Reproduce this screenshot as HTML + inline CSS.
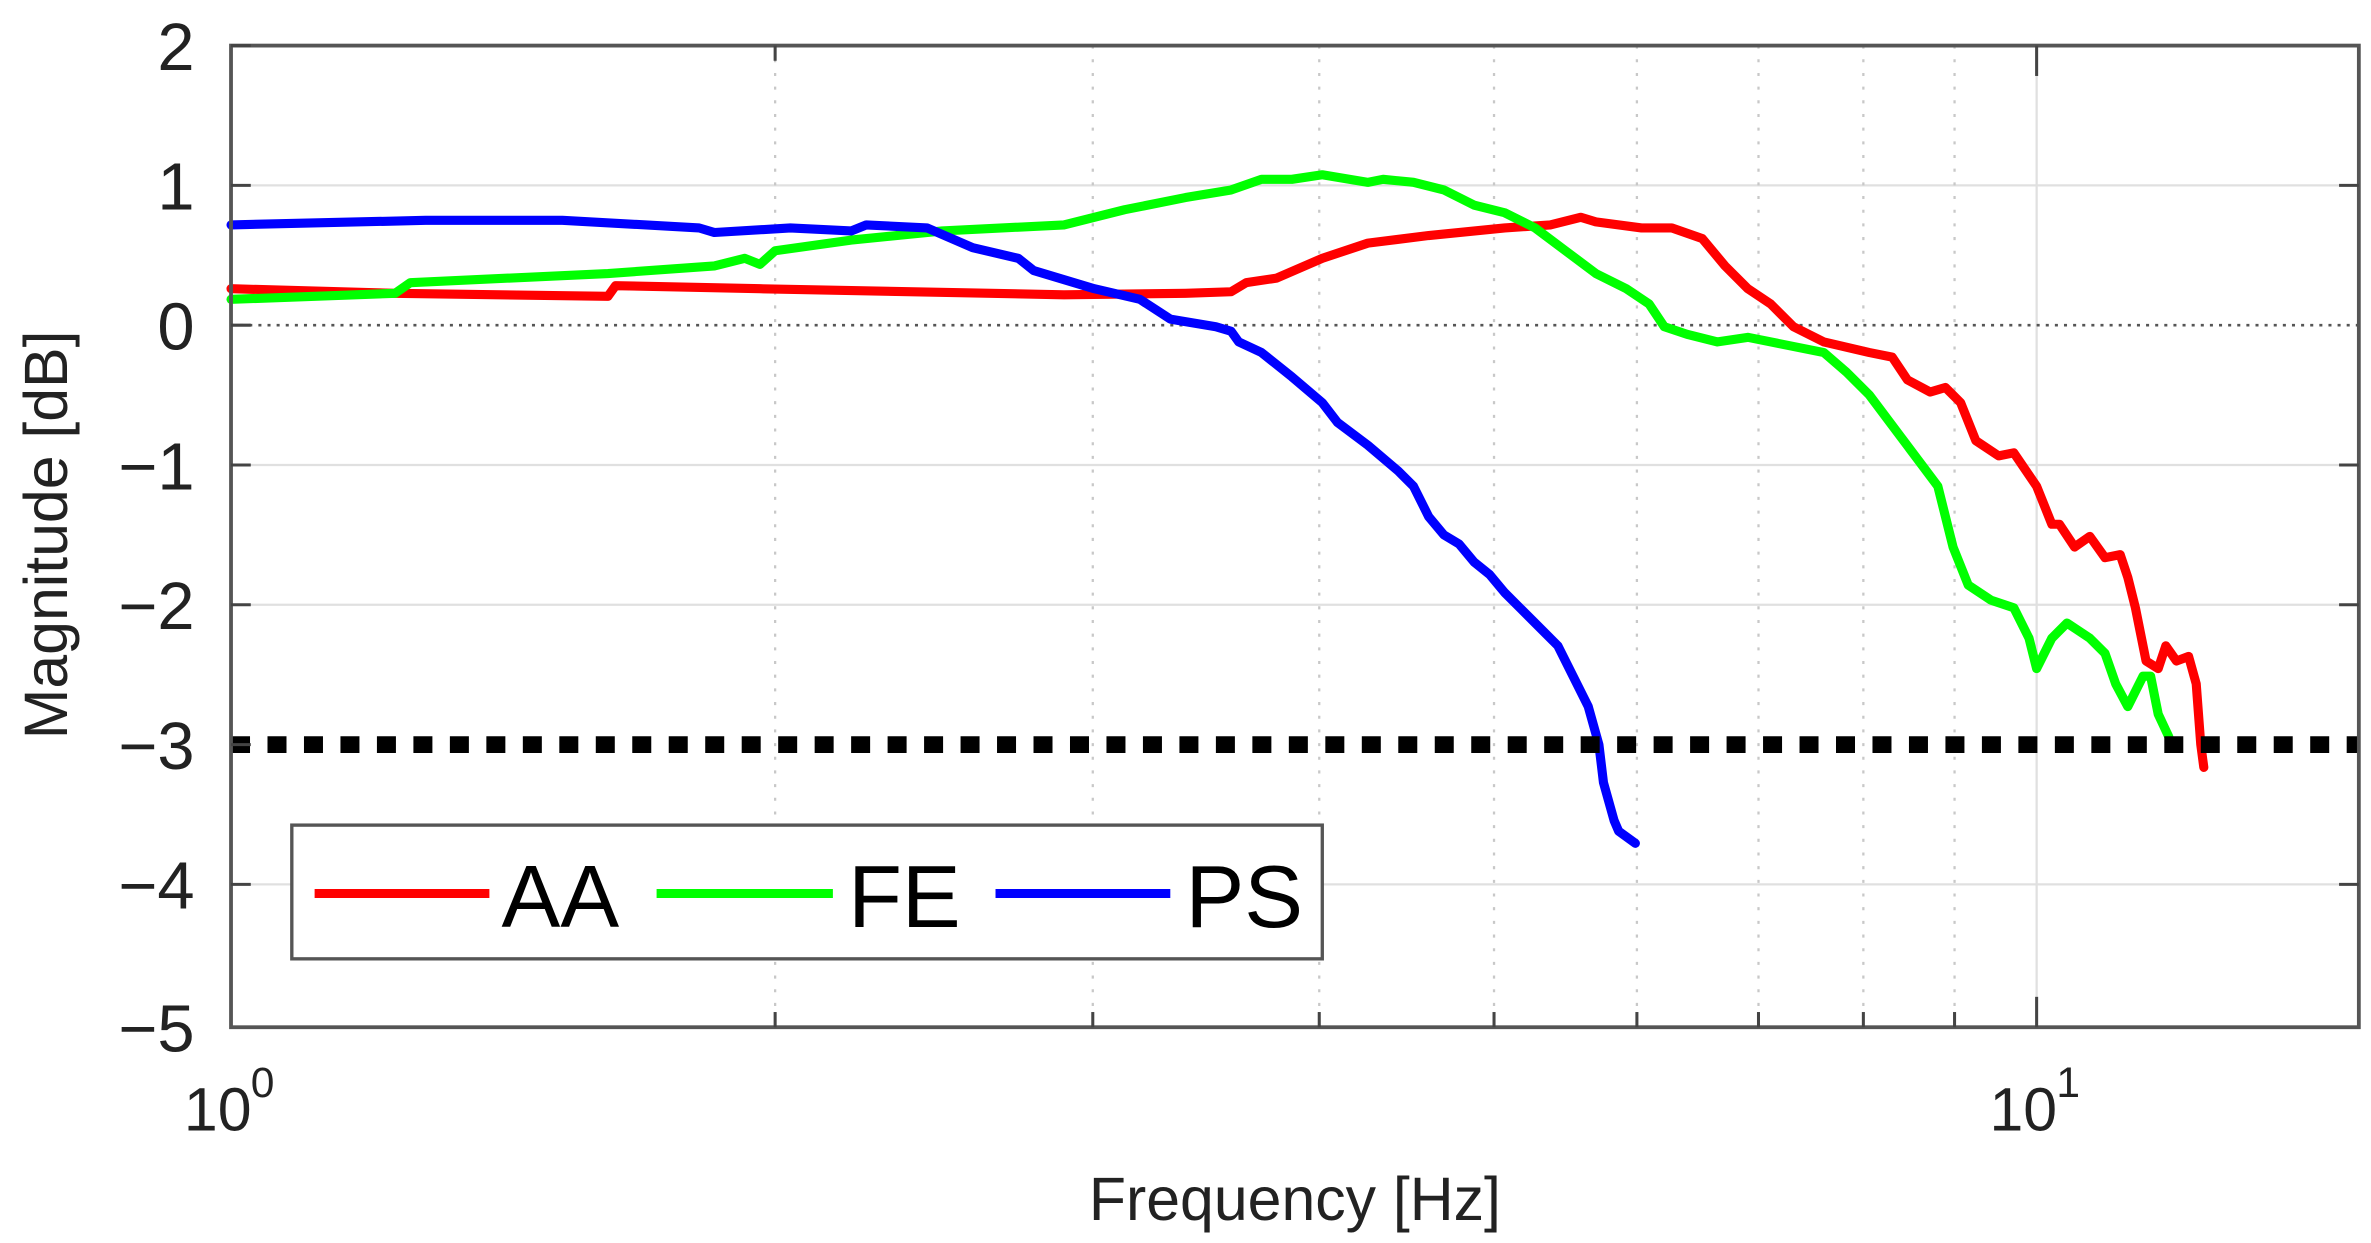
<!DOCTYPE html>
<html><head><meta charset="utf-8"><style>
html,body{margin:0;padding:0;background:#fff;}
svg{display:block;}
text{font-family:"Liberation Sans",Arial,sans-serif;fill:#222;}
</style></head><body>
<svg width="2371" height="1243" viewBox="0 0 1560 818" preserveAspectRatio="none" xmlns="http://www.w3.org/2000/svg">
<rect width="1560" height="818" fill="#fff"/>
<g stroke="#e0e0e0" stroke-width="1.5">
<line x1="152" y1="122" x2="1552" y2="122"/>
<line x1="152" y1="306" x2="1552" y2="306"/>
<line x1="152" y1="398" x2="1552" y2="398"/>
<line x1="152" y1="582" x2="1552" y2="582"/>
</g>
<g stroke="#c8c8c8" stroke-width="1.5" stroke-dasharray="2,7">
<line x1="510" y1="30" x2="510" y2="676"/>
<line x1="719" y1="30" x2="719" y2="676"/>
<line x1="868" y1="30" x2="868" y2="676"/>
<line x1="983" y1="30" x2="983" y2="676"/>
<line x1="1077" y1="30" x2="1077" y2="676"/>
<line x1="1157" y1="30" x2="1157" y2="676"/>
<line x1="1226" y1="30" x2="1226" y2="676"/>
<line x1="1286" y1="30" x2="1286" y2="676"/>
</g>
<line x1="1340" y1="30" x2="1340" y2="676" stroke="#e0e0e0" stroke-width="1.5"/>
<line x1="152" y1="214" x2="1552" y2="214" stroke="#555" stroke-width="1.8" stroke-dasharray="2,4"/>
<g fill="none" stroke-width="6" stroke-linejoin="round" stroke-linecap="round">
<polyline stroke="#ff0000" points="152,190 260,193 400,195 405,188 500,190 700,194 780,193 810,192 820,186 840,183 870,170 900,160 940,155 990,150 1020,148 1040,143 1050,146 1080,150 1100,150 1120,157 1135,175 1150,190 1165,200 1180,215 1200,225 1230,232 1245,235 1255,250 1270,258 1280,255 1290,265 1300,290 1315,300 1325,298 1340,320 1350,345 1355,345 1365,360 1375,353 1385,367 1395,365 1400,380 1405,400 1412,435 1420,440 1425,425 1432,435 1440,432 1445,450 1448,490 1450,505"/>
<polyline stroke="#00ff00" points="152,197 260,193 270,186 400,180 470,175 490,170 500,174 510,165 560,158 620,152 700,148 740,138 780,130 810,125 830,118 850,118 870,115 900,120 910,118 930,120 950,125 970,135 990,140 1010,150 1030,165 1050,180 1070,190 1085,200 1095,215 1110,220 1130,225 1150,222 1170,226 1200,232 1215,245 1230,260 1245,280 1260,300 1275,320 1285,360 1295,385 1310,395 1325,400 1335,420 1340,440 1350,420 1360,410 1375,420 1385,430 1392,450 1400,465 1410,445 1415,445 1420,470 1427,485"/>
<polyline stroke="#0000ff" points="152,148 280,145 370,145 460,150 470,153 520,150 560,152 570,148 610,150 640,163 670,170 680,178 720,190 750,197 770,210 800,215 810,218 815,225 830,232 850,248 870,265 880,278 900,293 920,310 930,320 940,340 950,352 960,358 970,370 980,378 990,390 1000,400 1010,410 1025,425 1035,445 1045,465 1052,490 1055,515 1062,540 1065,547 1076,555"/>
</g>
<line x1="152" y1="490" x2="1552" y2="490" stroke="#000" stroke-width="11" stroke-dasharray="12.5,11.5"/>
<rect x="152" y="30" width="1400" height="646" fill="none" stroke="#555" stroke-width="2.5"/>
<g stroke="#444" stroke-width="2">
<line x1="152" y1="30" x2="165" y2="30"/><line x1="152" y1="122" x2="165" y2="122"/><line x1="152" y1="214" x2="165" y2="214"/><line x1="152" y1="306" x2="165" y2="306"/><line x1="152" y1="398" x2="165" y2="398"/><line x1="152" y1="490" x2="165" y2="490"/><line x1="152" y1="582" x2="165" y2="582"/>
<line x1="1552" y1="122" x2="1539" y2="122"/><line x1="1552" y1="306" x2="1539" y2="306"/><line x1="1552" y1="398" x2="1539" y2="398"/><line x1="1552" y1="582" x2="1539" y2="582"/>
<line x1="510" y1="676" x2="510" y2="666"/><line x1="719" y1="676" x2="719" y2="666"/><line x1="868" y1="676" x2="868" y2="666"/><line x1="983" y1="676" x2="983" y2="666"/><line x1="1077" y1="676" x2="1077" y2="666"/><line x1="1157" y1="676" x2="1157" y2="666"/><line x1="1226" y1="676" x2="1226" y2="666"/><line x1="1286" y1="676" x2="1286" y2="666"/><line x1="1340" y1="676" x2="1340" y2="656"/>
<line x1="510" y1="30" x2="510" y2="40"/><line x1="1340" y1="30" x2="1340" y2="50"/>
</g>
<g font-size="44" text-anchor="end">
<text x="128" y="46">2</text>
<text x="128" y="138">1</text>
<text x="128" y="230">0</text>
<text x="128" y="322">−1</text>
<text x="128" y="414">−2</text>
<text x="128" y="506">−3</text>
<text x="128" y="598">−4</text>
<text x="128" y="692">−5</text>
</g>
<text x="121" y="744" font-size="40">10</text><text x="165" y="722" font-size="28">0</text>
<text x="1309" y="744" font-size="40">10</text><text x="1353" y="722" font-size="28">1</text>
<text x="852" y="803" font-size="40" text-anchor="middle">Frequency [Hz]</text>
<text transform="translate(44,352) rotate(-90)" font-size="40" text-anchor="middle">Magnitude [dB]</text>
<rect x="192" y="543" width="678" height="88" fill="#fff" stroke="#555" stroke-width="2.2"/>
<g stroke-width="6">
<line x1="207" y1="588" x2="322" y2="588" stroke="#ff0000"/>
<line x1="432" y1="588" x2="548" y2="588" stroke="#00ff00"/>
<line x1="655" y1="588" x2="770" y2="588" stroke="#0000ff"/>
</g>
<g font-size="58">
<text x="330" y="610" style="fill:#000">AA</text>
<text x="558" y="610" style="fill:#000">FE</text>
<text x="780" y="610" style="fill:#000">PS</text>
</g>
</svg>
</body></html>
